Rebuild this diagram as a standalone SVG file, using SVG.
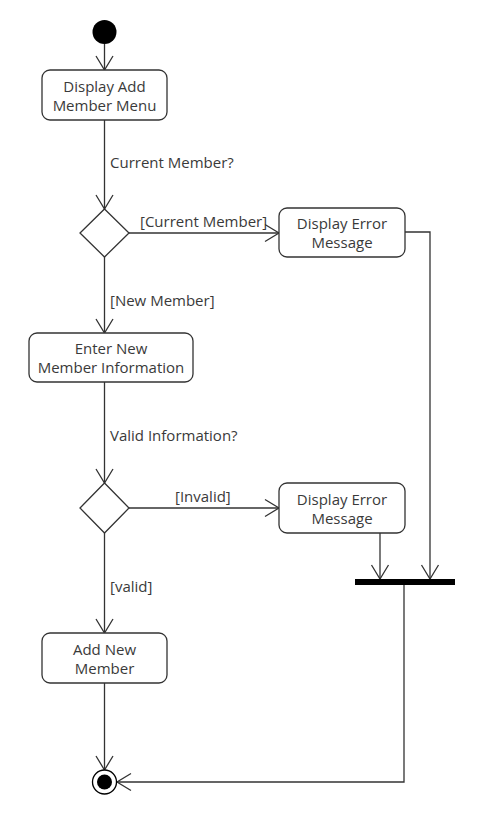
<svg xmlns="http://www.w3.org/2000/svg" width="483" height="822" viewBox="0 0 483 822">
<style>
.node{fill:#fff;stroke:#333;stroke-width:1.3}
.t{font-family:"Open Sans","Noto Sans",sans-serif;font-size:15px;fill:#3a3a3a}
.c{text-anchor:middle}
.e{fill:none;stroke:#333;stroke-width:1.3}
</style>
<defs>
<marker id="a" markerUnits="userSpaceOnUse" markerWidth="20" markerHeight="20" viewBox="-15 -10 20 20" refX="0" refY="0" orient="auto">
<polyline points="-14,-8.5 0,0 -14,8.5" fill="none" stroke="#333" stroke-width="1.3"/>
</marker>
</defs>
<rect width="483" height="822" fill="#fff"/>
<g id="connectors">
<line class="e" x1="104.5" y1="44" x2="104.5" y2="70" marker-end="url(#a)"/>
<line class="e" x1="104.5" y1="120" x2="104.5" y2="209" marker-end="url(#a)"/>
<line class="e" x1="129" y1="233" x2="279" y2="233" marker-end="url(#a)"/>
<line class="e" x1="104.5" y1="257" x2="104.5" y2="333" marker-end="url(#a)"/>
<line class="e" x1="104.5" y1="382" x2="104.5" y2="483" marker-end="url(#a)"/>
<line class="e" x1="129" y1="508" x2="279" y2="508" marker-end="url(#a)"/>
<line class="e" x1="104.5" y1="533" x2="104.5" y2="633" marker-end="url(#a)"/>
<line class="e" x1="104.5" y1="683" x2="104.5" y2="770" marker-end="url(#a)"/>
<polyline class="e" points="405,232 430,232 430,579" marker-end="url(#a)"/>
<line class="e" x1="380" y1="533" x2="380" y2="579" marker-end="url(#a)"/>
<polyline class="e" points="404,585 404,782 117,782" marker-end="url(#a)"/>
<text class="t" x="110" y="168">Current Member?</text>
<text class="t" x="140" y="227">[Current Member]</text>
<text class="t" x="110" y="306">[New Member]</text>
<text class="t" x="110" y="441">Valid Information?</text>
<text class="t" x="175" y="502">[Invalid]</text>
<text class="t" x="110" y="592">[valid]</text>
</g>
<g id="start"><circle cx="104.5" cy="32" r="12" fill="#000"/></g>
<g id="display-add-menu">
<rect class="node" x="42" y="70" width="125" height="50" rx="8"/>
<text class="t c" x="104.5" y="91.5">Display Add</text>
<text class="t c" x="104.5" y="110.5">Member Menu</text>
</g>
<g id="decision-current">
<polygon class="node" points="104.5,209 129,233 104.5,257 80,233"/>
</g>
<g id="error-1">
<rect class="node" x="279" y="208" width="126" height="49" rx="8"/>
<text class="t c" x="342" y="229">Display Error</text>
<text class="t c" x="342" y="248">Message</text>
</g>
<g id="enter-info">
<rect class="node" x="29" y="333" width="164" height="49" rx="8"/>
<text class="t c" x="111" y="354">Enter New</text>
<text class="t c" x="111" y="373">Member Information</text>
</g>
<g id="decision-valid">
<polygon class="node" points="104.5,483 129,508 104.5,533 80,508"/>
</g>
<g id="error-2">
<rect class="node" x="279" y="483" width="126" height="50" rx="8"/>
<text class="t c" x="342" y="504.5">Display Error</text>
<text class="t c" x="342" y="523.5">Message</text>
</g>
<g id="join-bar"><rect x="355" y="579" width="100" height="6" fill="#000"/></g>
<g id="add-member">
<rect class="node" x="42" y="633" width="125" height="50" rx="8"/>
<text class="t c" x="104.5" y="654.5">Add New</text>
<text class="t c" x="104.5" y="673.5">Member</text>
</g>
<g id="end">
<circle cx="104.5" cy="782" r="12" fill="#fff" stroke="#000" stroke-width="1.3"/>
<circle cx="104.5" cy="782" r="7.5" fill="#000"/>
</g>
</svg>
